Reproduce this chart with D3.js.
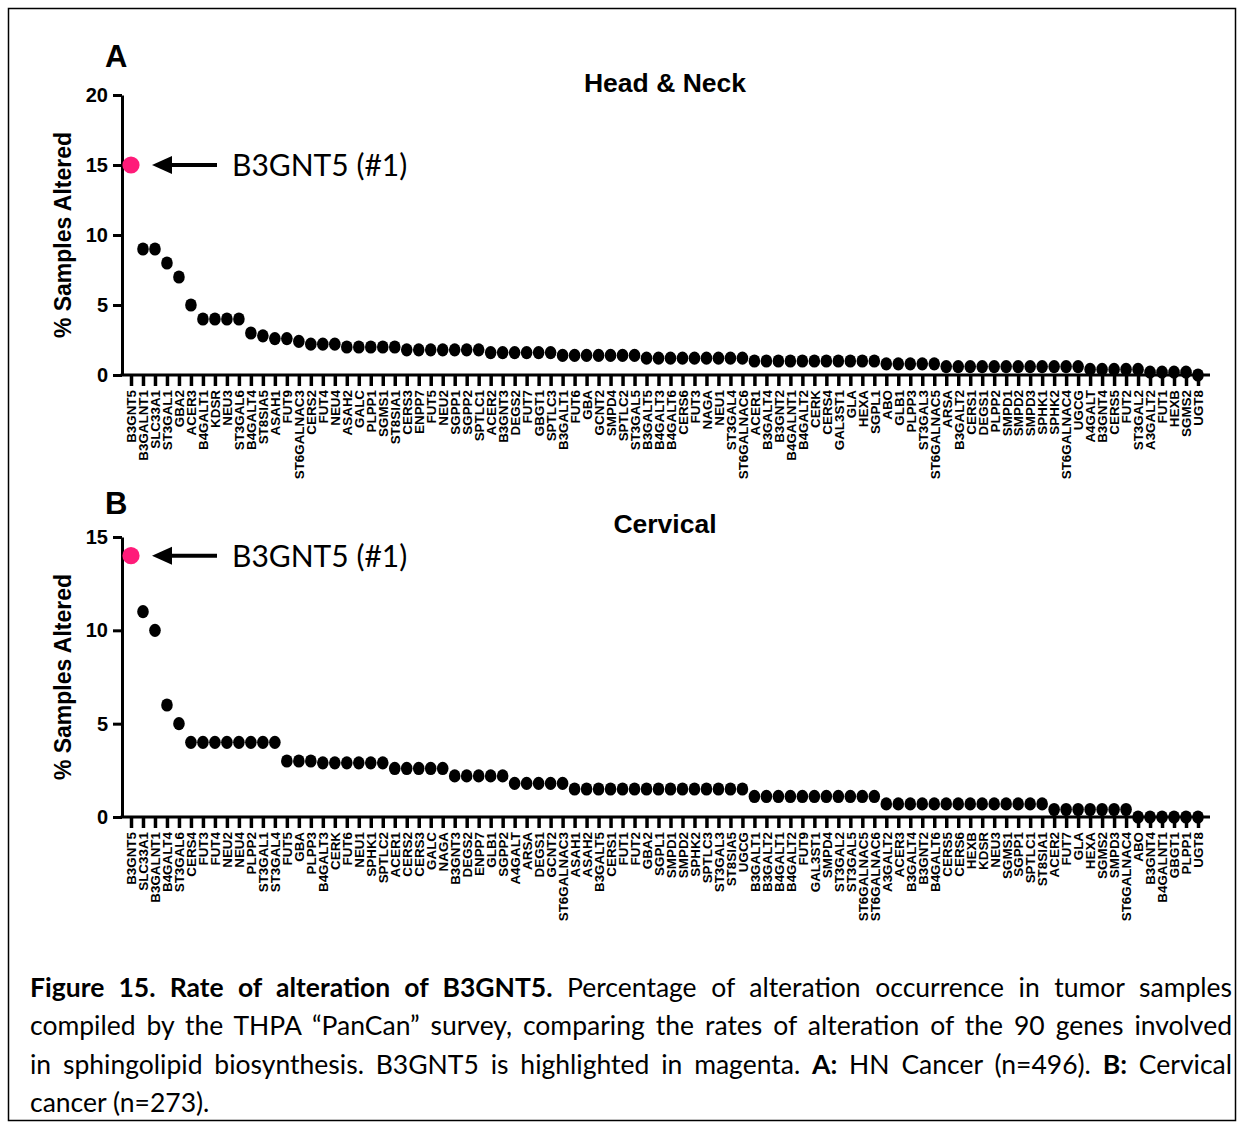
<!DOCTYPE html>
<html>
<head>
<meta charset="utf-8">
<script src="https://cdn.jsdelivr.net/npm/d3@7"></script>
<style>
  html, body { margin: 0; padding: 0; background: #fff; }
  svg { display: block; }
</style>
</head>
<body>
<svg id="fig" width="1243" height="1126"></svg>
<script>
// ---- Panel A: Head & Neck (n=496), genes ranked by % samples altered ----
const genesA = ["B3GNT5","B3GALNT1","SLC33A1","ST3GAL1","GBA2","ACER3","B4GALT1","KDSR","NEU3","ST3GAL6",
  "B4GALT4","ST8SIA5","ASAH1","FUT9","ST6GALNAC3","CERS2","FUT4","NEU4","ASAH2","GALC",
  "PLPP1","SGMS1","ST8SIA1","CERS3","ENPP7","FUT5","NEU2","SGPP1","SGPP2","SPTLC1",
  "ACER2","B3GNT3","DEGS2","FUT7","GBGT1","SPTLC3","B3GALT1","FUT6","GBA","GCNT2",
  "SMPD4","SPTLC2","ST3GAL5","B3GALT5","B4GALT3","B4GALT6","CERS6","FUT3","NAGA","NEU1",
  "ST3GAL4","ST6GALNAC6","ACER1","B3GALT4","B3GNT2","B4GALNT1","B4GALT2","CERK","CERS4","GAL3ST1",
  "GLA","HEXA","SGPL1","ABO","GLB1","PLPP3","ST3GAL3","ST6GALNAC5","ARSA","B3GALT2",
  "CERS1","DEGS1","PLPP2","SMPD1","SMPD2","SMPD3","SPHK1","SPHK2","ST6GALNAC4","UGCG",
  "A4GALT","B3GNT4","CERS5","FUT2","ST3GAL2","A3GALT2","FUT1","HEXB","SGMS2","UGT8"];
const valuesA = [15,9,9,8,7,5,4,4,4,4,
  3.0,2.8,2.6,2.6,2.4,2.2,2.2,2.2,2.0,2.0,
  2.0,2.0,2.0,1.8,1.8,1.8,1.8,1.8,1.8,1.8,
  1.6,1.6,1.6,1.6,1.6,1.6,1.4,1.4,1.4,1.4,
  1.4,1.4,1.4,1.2,1.2,1.2,1.2,1.2,1.2,1.2,
  1.2,1.2,1.0,1.0,1.0,1.0,1.0,1.0,1.0,1.0,
  1.0,1.0,1.0,0.8,0.8,0.8,0.8,0.8,0.6,0.6,
  0.6,0.6,0.6,0.6,0.6,0.6,0.6,0.6,0.6,0.6,
  0.4,0.4,0.4,0.4,0.4,0.2,0.2,0.2,0.2,0];
const yTicksA = [0,5,10,15,20];

// ---- Panel B: Cervical (n=273) ----
const genesB = ["B3GNT5","SLC33A1","B3GALNT1","B4GALT4","ST3GAL6","CERS4","FUT3","FUT4","NEU2","NEU4",
  "PLPP2","ST3GAL1","ST3GAL4","FUT5","GBA","PLPP3","B4GALT3","CERK","FUT6","NEU1",
  "SPHK1","SPTLC2","ACER1","CERS2","CERS3","GALC","NAGA","B3GNT3","DEGS2","ENPP7",
  "GLB1","SGPP2","A4GALT","ARSA","DEGS1","GCNT2","ST6GALNAC3","ASAH1","ASAH2","B3GALT5",
  "CERS1","FUT1","FUT2","GBA2","SGPL1","SMPD1","SMPD2","SPHK2","SPTLC3","ST3GAL3",
  "ST8SIA5","UGCG","B3GALT1","B3GALT2","B4GALT1","B4GALT2","FUT9","GAL3ST1","SMPD4","ST3GAL2",
  "ST3GAL5","ST6GALNAC5","ST6GALNAC6","A3GALT2","ACER3","B3GALT4","B3GNT2","B4GALT6","CERS5","CERS6",
  "HEXB","KDSR","NEU3","SGMS1","SGPP1","SPTLC1","ST8SIA1","ACER2","FUT7","GLA",
  "HEXA","SGMS2","SMPD3","ST6GALNAC4","ABO","B3GNT4","B4GALNT1","GBGT1","PLPP1","UGT8"];
const valuesB = [14,11,10,6,5,4,4,4,4,4,
  4,4,4,3.0,3.0,3.0,2.9,2.9,2.9,2.9,
  2.9,2.9,2.6,2.6,2.6,2.6,2.6,2.2,2.2,2.2,
  2.2,2.2,1.8,1.8,1.8,1.8,1.8,1.5,1.5,1.5,
  1.5,1.5,1.5,1.5,1.5,1.5,1.5,1.5,1.5,1.5,
  1.5,1.5,1.1,1.1,1.1,1.1,1.1,1.1,1.1,1.1,
  1.1,1.1,1.1,0.7,0.7,0.7,0.7,0.7,0.7,0.7,
  0.7,0.7,0.7,0.7,0.7,0.7,0.7,0.4,0.4,0.4,
  0.4,0.4,0.4,0.4,0,0,0,0,0,0];
const yTicksB = [0,5,10,15];

const highlightGene = "B3GNT5";
const highlightLabel = "B3GNT5 (#1)";

const svg = d3.select("#fig");
const FONT = "'Liberation Sans', Arial, Helvetica, sans-serif";
const CAPTION_FONT = "Lato, 'Open Sans', sans-serif";
const PINK = "#ff1b79";

// frame around the whole figure
svg.append("rect")
  .attr("x", 8.5).attr("y", 8.5).attr("width", 1227).attr("height", 1112)
  .attr("fill", "none").attr("stroke", "#000").attr("stroke-width", 1.5);

function drawPanel(cfg) {
  const g = svg.append("g");
  const x = d3.scalePoint().domain(cfg.genes).range([131, 1198]);
  const y = d3.scaleLinear().domain([0, cfg.yMax]).range([cfg.y0, cfg.yTop]);

  // y axis
  const yAxis = d3.axisLeft(y).tickValues(cfg.yTicks).tickSize(9).tickSizeOuter(0).tickPadding(5);
  const ya = g.append("g").attr("transform", "translate(122,0)").call(yAxis);
  ya.select(".domain").attr("stroke-width", 3);
  ya.selectAll(".tick line").attr("stroke-width", 3);
  ya.selectAll(".tick text")
    .attr("font-family", FONT).attr("font-weight", "bold").attr("font-size", 20).attr("fill", "#000");

  // x axis with rotated gene names
  const xAxis = d3.axisBottom(x).tickSize(11).tickSizeOuter(0);
  const xa = g.append("g").attr("transform", `translate(0,${cfg.y0})`).call(xAxis);
  xa.select(".domain").remove();
  xa.selectAll(".tick line").attr("stroke-width", 3.5);
  xa.selectAll(".tick text")
    .attr("font-family", FONT).attr("font-weight", "bold").attr("font-size", 13.4).attr("fill", "#000")
    .attr("text-anchor", "end")
    .attr("x", 0).attr("y", 0).attr("dx", "-15px").attr("dy", "0.36em")
    .attr("transform", "rotate(-90)");
  g.append("line")
    .attr("x1", 120.5).attr("x2", 1210).attr("y1", cfg.y0).attr("y2", cfg.y0)
    .attr("stroke", "#000").attr("stroke-width", 3);

  // points
  const data = cfg.genes.map((gn, i) => ({ gene: gn, value: cfg.values[i] }));
  g.selectAll("ellipse.pt").data(data.filter(d => d.gene !== highlightGene)).join("ellipse")
    .attr("class", "pt")
    .attr("cx", d => x(d.gene)).attr("cy", d => y(d.value))
    .attr("rx", 5.8).attr("ry", 6.6).attr("fill", "#000");
  const hl = data.find(d => d.gene === highlightGene);
  g.append("circle")
    .attr("cx", x(hl.gene)).attr("cy", y(hl.value)).attr("r", 8.6).attr("fill", PINK);

  // arrow + label pointing at the highlighted gene
  const ay = y(hl.value);
  g.append("line").attr("x1", 166).attr("x2", 217).attr("y1", ay).attr("y2", ay)
    .attr("stroke", "#000").attr("stroke-width", 4);
  g.append("path")
    .attr("d", `M152,${ay} L172,${ay - 9} L172,${ay + 9} Z`).attr("fill", "#000");
  g.append("text").attr("x", 232).attr("y", ay + 11)
    .attr("font-family", CAPTION_FONT).attr("font-size", 30).attr("fill", "#000")
    .text(highlightLabel);

  // panel letter, title, y label
  g.append("text").attr("x", 105).attr("y", cfg.letterY)
    .attr("font-family", FONT).attr("font-weight", "bold").attr("font-size", 31).text(cfg.letter);
  g.append("text").attr("x", 665).attr("y", cfg.titleY).attr("text-anchor", "middle")
    .attr("font-family", FONT).attr("font-weight", "bold").attr("font-size", 26.5).text(cfg.title);
  g.append("text")
    .attr("transform", `translate(71,${cfg.yLabelY}) rotate(-90)`)
    .attr("text-anchor", "middle")
    .attr("font-family", FONT).attr("font-weight", "bold").attr("font-size", 23)
    .text("% Samples Altered");
}

drawPanel({ genes: genesA, values: valuesA, yTicks: yTicksA, yMax: 20, y0: 375, yTop: 95,
  letter: "A", letterY: 67, title: "Head & Neck", titleY: 92, yLabelY: 235 });
drawPanel({ genes: genesB, values: valuesB, yTicks: yTicksB, yMax: 15, y0: 817, yTop: 537,
  letter: "B", letterY: 514, title: "Cervical", titleY: 533, yLabelY: 677 });

// ---- caption (justified lines) ----
const captionLines = [
  [{ t: "Figure 15. Rate of alteration of B3GNT5.", b: true }, { t: " Percentage of alteration occurrence in tumor samples", b: false }],
  [{ t: "compiled by the THPA \u201CPanCan\u201D survey, comparing the rates of alteration of the 90 genes involved", b: false }],
  [{ t: "in sphingolipid biosynthesis. B3GNT5 is highlighted in magenta. ", b: false }, { t: "A:", b: true },
   { t: " HN Cancer (n=496). ", b: false }, { t: "B:", b: true }, { t: " Cervical", b: false }],
  [{ t: "cancer (n=273).", b: false }]
];
const capX = 30, capRight = 1232, capY0 = 997, capStep = 38.3;
captionLines.forEach((segs, i) => {
  const t = svg.append("text").attr("x", capX).attr("y", capY0 + i * capStep)
    .attr("font-family", CAPTION_FONT).attr("font-size", 26.5).attr("fill", "#000")
    .attr("xml:space", "preserve").style("white-space", "pre");
  segs.forEach(s => t.append("tspan").attr("font-weight", s.b ? "bold" : "normal").text(s.t));
  if (i < captionLines.length - 1) {
    const len = t.node().getComputedTextLength();
    const spaces = segs.map(s => s.t).join("").split(" ").length - 1;
    const extra = (capRight - capX - len) / spaces;
    t.attr("word-spacing", extra);
  }
});
</script>
</body>
</html>
